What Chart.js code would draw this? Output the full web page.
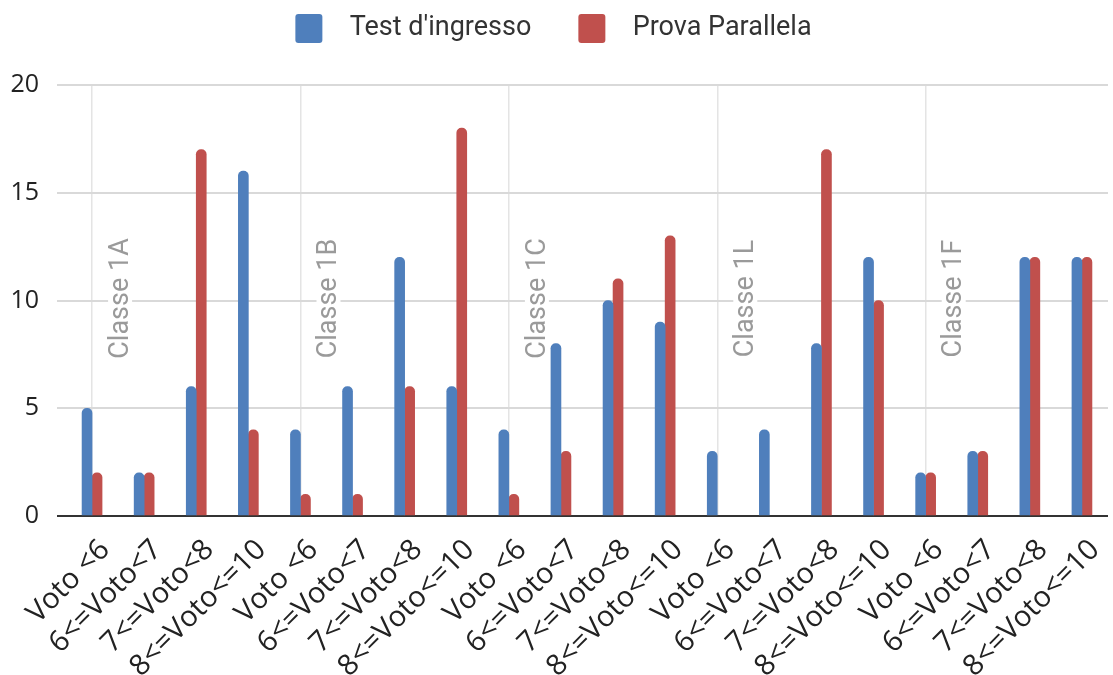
<!DOCTYPE html>
<html>
<head>
<meta charset="utf-8">
<script src="https://cdn.jsdelivr.net/npm/chart.js@4.4.0/dist/chart.umd.min.js"></script>
<style>
  html, body { margin: 0; padding: 0; background: #fff; }
</style>
</head>
<body>
<canvas id="votiChart" width="1113" height="675"></canvas>
<script>
// fasce di voto e classi
var fasce = ["Voto <6", "6<=Voto<7", "7<=Voto<8", "8<=Voto<=10"];
var classi = ["Classe 1A", "Classe 1B", "Classe 1C", "Classe 1L", "Classe 1F"];

// numero di alunni per fascia (4 fasce per ogni classe, in ordine)
var testIngresso   = [5, 2, 6, 16,  4, 6, 12, 6,  4, 8, 10, 9,  3, 4, 8, 12,  2, 3, 12, 12];
var provaParallela = [2, 2, 17, 4,  1, 1, 6, 18,  1, 3, 11, 13,  0, 0, 17, 10,  2, 3, 12, 12];

var yTicks = [0, 5, 10, 15, 20];

var categorie = [];
classi.forEach(function () { fasce.forEach(function (f) { categorie.push(f); }); });

var fontNarrow = "Roboto, sans-serif";
var fontTicks = "'Open Sans', sans-serif";

function coloreBarra(colore) {
  // niente barra quando il valore e' zero
  return function (c) { return c.raw === 0 ? "rgba(0,0,0,0)" : colore; };
}

/* scritte "Classe 1X" ruotate dentro il grafico */
var etichetteClassi = {
  id: "etichetteClassi",
  beforeDatasetsDraw: function (chart) {
    var ctx = chart.ctx;
    var xs = chart.scales.x, ys = chart.scales.y;
    ctx.save();
    ctx.font = "27px " + fontNarrow;
    ctx.textAlign = "center";
    ctx.textBaseline = "middle";
    classi.forEach(function (nome, i) {
      var x = (xs.getPixelForTick(i * 4) + xs.getPixelForTick(i * 4 + 1)) / 2 + 2;
      var y = ys.getPixelForValue(10) - 2;
      var w = ctx.measureText(nome).width;
      ctx.save();
      ctx.translate(x, y);
      ctx.rotate(-Math.PI / 2);
      ctx.fillStyle = "#fff";
      ctx.fillRect(-w / 2 - 4, -12, w + 8, 24);
      ctx.fillStyle = "#9a9a9a";
      ctx.fillText(nome, 0, 1);
      ctx.restore();
    });
    ctx.restore();
  }
};

// altezza fissa della legenda, cosi' l'area del grafico parte piu' in basso
var spazioLegenda = {
  id: "spazioLegenda",
  beforeInit: function (chart) {
    var fit = chart.legend.fit;
    chart.legend.fit = function () {
      fit.bind(chart.legend)();
      this.height = 85;
    };
  }
};

new Chart("votiChart", {
  type: "bar",
  data: {
    labels: categorie,
    datasets: [{
      label: "Test d'ingresso",
      data: testIngresso,
      backgroundColor: coloreBarra("#4f7fbc")
    }, {
      label: "Prova Parallela",
      data: provaParallela,
      backgroundColor: coloreBarra("#c0504d")
    }]
  },
  options: {
    responsive: false,
    animation: false,
    layout: { padding: { left: 10, right: 5, top: 0, bottom: 0 } },
    datasets: {
      bar: {
        barThickness: 10,
        categoryPercentage: 0.62,
        borderRadius: 5
      }
    },
    plugins: {
      tooltip: { enabled: false },
      legend: {
        position: "top",
        labels: {
          boxWidth: 27,
          boxHeight: 29,
          padding: 14,
          useBorderRadius: true,
          borderRadius: 3,
          color: "#333",
          font: { family: fontNarrow, size: 27 },
          generateLabels: function (chart) {
            var items = Chart.defaults.plugins.legend.labels.generateLabels(chart);
            items.forEach(function (it, i) {
              it.fillStyle = i === 0 ? "#4f7fbc" : "#c0504d";
              it.strokeStyle = it.fillStyle;
              it.text = "\u2009\u2009\u200a" + it.text + (i < items.length - 1 ? "\u2003\u2009" : "\u2009\u2009");
            });
            return items;
          }
        }
      }
    },
    scales: {
      x: {
        border: { display: false },
        afterFit: function (axis) {
          axis.height = 159;
          axis.paddingLeft = 0;
          axis.paddingRight = 0;
        },
        grid: {
          offset: false,
          drawTicks: false,
          lineWidth: 1.5,
          color: function (c) { return c.index % 4 === 0 ? "#e4e4e4" : "rgba(0,0,0,0)"; }
        },
        ticks: {
          autoSkip: false,
          minRotation: 45,
          maxRotation: 45,
          padding: 17,
          labelOffset: 13,
          color: "#222",
          font: { family: fontTicks, size: 29 }
        }
      },
      y: {
        min: 0,
        max: 20,
        border: { display: false },
        afterBuildTicks: function (axis) {
          axis.ticks = yTicks.map(function (v) { return { value: v }; });
        },
        afterFit: function (axis) {
          axis.width = 56;
        },
        grid: {
          drawTicks: true,
          tickLength: 9,
          lineWidth: 2,
          color: function (c) { return c.tick && c.tick.value === 0 ? "#333" : "#d9d9d9"; }
        },
        ticks: {
          padding: 18,
          color: "#222",
          font: { family: fontTicks, size: 25 }
        }
      }
    }
  },
  plugins: [etichetteClassi, spazioLegenda]
});
</script>
</body>
</html>
